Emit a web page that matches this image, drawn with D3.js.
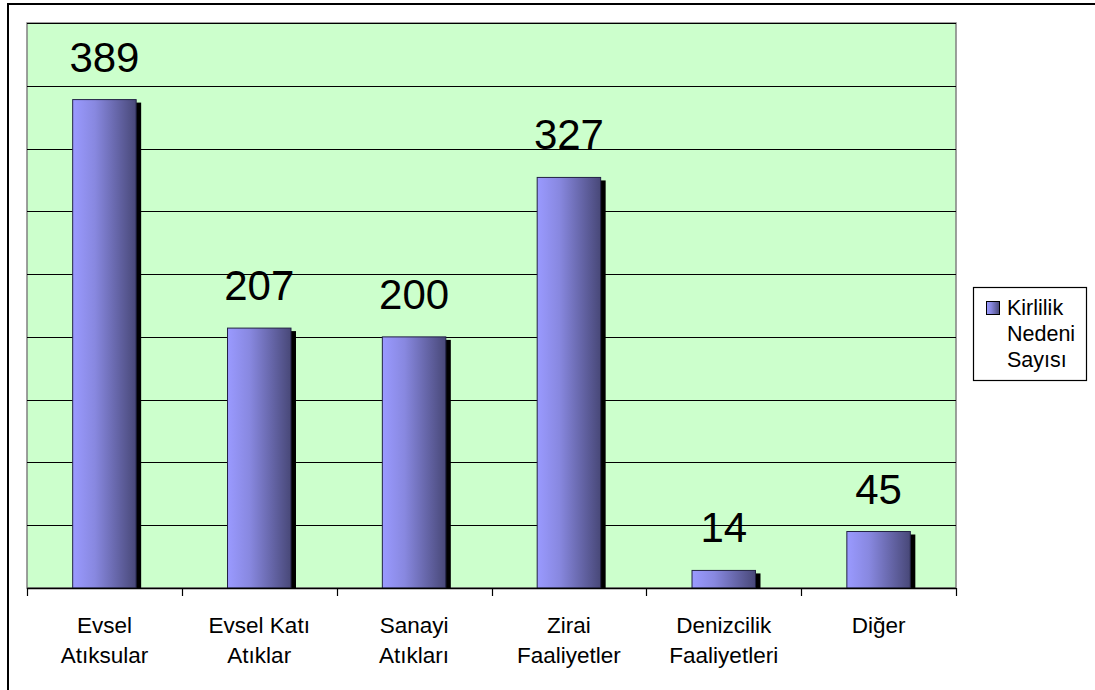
<!DOCTYPE html>
<html>
<head>
<meta charset="utf-8">
<script src="https://cdn.jsdelivr.net/npm/d3@7"></script>
<style>
  body { margin: 0; background: #fff; }
  text { font-family: "Liberation Sans", Arial, sans-serif; }
</style>
</head>
<body>
<script>
// chart data
var categories = [
  ["Evsel", "Atıksular"],
  ["Evsel Katı", "Atıklar"],
  ["Sanayi", "Atıkları"],
  ["Zirai", "Faaliyetler"],
  ["Denizcilik", "Faaliyetleri"],
  ["Diğer"]
];
var values = [389, 207, 200, 327, 14, 45];
var seriesName = ["Kirlilik", "Nedeni", "Sayısı"];
var gridTicks = [0, 50, 100, 150, 200, 250, 300, 350, 400, 450];

var svgWidth = 1095;
var svgHeight = 690;

// plot area
var plot = { left: 27, top: 23, right: 956, bottom: 588 };

var svg = d3.select("body")
  .append("svg")
  .attr("width", svgWidth)
  .attr("height", svgHeight);

// gradient for bars
var defs = svg.append("defs");
var grad = defs.append("linearGradient")
  .attr("id", "barGrad")
  .attr("x1", "0%").attr("x2", "100%")
  .attr("y1", "0%").attr("y2", "0%");
grad.append("stop").attr("offset", "0%").attr("stop-color", "#9a9aff");
grad.append("stop").attr("offset", "35%").attr("stop-color", "#8888e0");
grad.append("stop").attr("offset", "100%").attr("stop-color", "#484878");

// outer frame
svg.append("rect")
  .attr("x", 8).attr("y", 4)
  .attr("width", 1200).attr("height", 800)
  .attr("fill", "none")
  .attr("stroke", "#000")
  .attr("stroke-width", 2);

var x = d3.scaleBand()
  .domain(d3.range(categories.length))
  .range([plot.left, plot.right])
  .paddingInner(0.59)
  .paddingOuter(0.295);

var y = d3.scaleLinear()
  .domain([0, 450])
  .range([plot.bottom, plot.top]);

// plot background
svg.append("rect")
  .attr("x", plot.left).attr("y", plot.top)
  .attr("width", plot.right - plot.left)
  .attr("height", plot.bottom - plot.top)
  .attr("fill", "#ccffcc")
  .attr("stroke", "#808080")
  .attr("stroke-width", 1.5);

// gridlines
svg.append("g")
  .selectAll("line")
  .data(gridTicks.slice(1))
  .enter()
  .append("line")
  .attr("x1", plot.left)
  .attr("x2", plot.right)
  .attr("y1", d => Math.round(y(d)) + 0.5)
  .attr("y2", d => Math.round(y(d)) + 0.5)
  .attr("stroke", "#000")
  .attr("stroke-width", 1.2);

// bars with shadow
var bars = svg.append("g")
  .selectAll("g")
  .data(values)
  .enter()
  .append("g");

bars.append("rect")
  .attr("x", (d, i) => x(i) + 5)
  .attr("y", d => y(d) + 3)
  .attr("width", x.bandwidth())
  .attr("height", d => y(0) - y(d) - 3)
  .attr("fill", "#000");

bars.append("rect")
  .attr("x", (d, i) => x(i))
  .attr("y", d => y(d))
  .attr("width", x.bandwidth())
  .attr("height", d => y(0) - y(d))
  .attr("fill", "url(#barGrad)")
  .attr("stroke", "#222244")
  .attr("stroke-width", 1);

// value labels
bars.append("text")
  .attr("x", (d, i) => x(i) + x.bandwidth() / 2)
  .attr("y", d => y(d) - 28)
  .attr("text-anchor", "middle")
  .style("font-size", "42px")
  .style("fill", "#000")
  .text(d => d);

// x axis
var xEdges = d3.scaleLinear()
  .domain([0, categories.length])
  .range([plot.left, plot.right]);

var axis = svg.append("g");
axis.append("line")
  .attr("x1", plot.left).attr("x2", plot.right)
  .attr("y1", plot.bottom + 0.5).attr("y2", plot.bottom + 0.5)
  .attr("stroke", "#000")
  .attr("stroke-width", 1.5);

axis.selectAll(".tick")
  .data(d3.range(categories.length + 1))
  .enter()
  .append("line")
  .attr("class", "tick")
  .attr("x1", d => Math.round(xEdges(d)) + 0.5)
  .attr("x2", d => Math.round(xEdges(d)) + 0.5)
  .attr("y1", plot.bottom)
  .attr("y2", plot.bottom + 8)
  .attr("stroke", "#000")
  .attr("stroke-width", 1.2);

// category labels
var catLabels = axis.selectAll(".cat")
  .data(categories)
  .enter()
  .append("text")
  .attr("class", "cat")
  .attr("text-anchor", "middle")
  .style("font-size", "22.5px")
  .style("fill", "#000");

catLabels.selectAll("tspan")
  .data((d, i) => d.map(t => ({ t: t, i: i })))
  .enter()
  .append("tspan")
  .attr("x", d => x(d.i) + x.bandwidth() / 2)
  .attr("y", (d, j) => 633 + j * 30)
  .text(d => d.t);

// legend
var legend = svg.append("g");
legend.append("rect")
  .attr("x", 973.5).attr("y", 287.5)
  .attr("width", 113).attr("height", 93)
  .attr("fill", "#fff")
  .attr("stroke", "#000")
  .attr("stroke-width", 1.2);

legend.append("rect")
  .attr("x", 986.5).attr("y", 301.5)
  .attr("width", 13).attr("height", 13)
  .attr("fill", "url(#barGrad)")
  .attr("stroke", "#000")
  .attr("stroke-width", 1);

legend.selectAll(".leg")
  .data(seriesName)
  .enter()
  .append("text")
  .attr("class", "leg")
  .attr("x", 1007)
  .attr("y", (d, i) => 315 + i * 26)
  .style("font-size", "21.5px")
  .style("fill", "#000")
  .text(d => d);
</script>
</body>
</html>
